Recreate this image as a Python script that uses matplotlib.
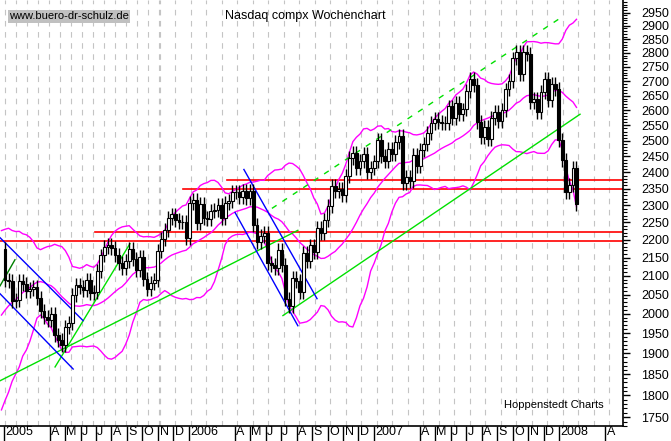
import numpy as np
import pandas as pd
import matplotlib
matplotlib.use('Agg')
import matplotlib.pyplot as plt

plt.rcParams['font.family'] = ['Liberation Sans', 'DejaVu Sans']

# weekly closes, 20 warm-up weeks of late 2004 for the bands
warmup = [1838, 1862, 1844, 1894, 1910, 1879, 1942, 1919, 1911, 1915,
          1975, 2039, 2086, 2070, 2101, 2148, 2129, 2136, 2154, 2175]
closes = [2088, 2087, 2034, 2035, 2086, 2077, 2058, 2065, 2071, 2041, 2007, 1991, 1984,
          1999, 1946, 1932, 1921, 1967, 1976, 2048, 2075, 2071, 2063, 2090, 2053, 2057,
          2112, 2156, 2179, 2185, 2177, 2157, 2136, 2120, 2141, 2175, 2145, 2116, 2152,
          2091, 2064, 2082, 2089, 2169, 2202, 2227, 2263, 2273, 2257, 2252, 2250, 2205,
          2306, 2317, 2247, 2304, 2262, 2261, 2282, 2287, 2302, 2262, 2306, 2313, 2340,
          2339, 2326, 2342, 2323, 2342, 2243, 2193, 2210, 2219, 2135, 2130, 2121, 2172,
          2130, 2037, 2020, 2094, 2085, 2057, 2163, 2141, 2184, 2165, 2235, 2218, 2258,
          2299, 2357, 2342, 2350, 2330, 2389, 2445, 2460, 2413, 2437, 2457, 2402, 2415,
          2434, 2502, 2451, 2435, 2475, 2459, 2496, 2515, 2368, 2387, 2372, 2455, 2421,
          2471, 2491, 2526, 2557, 2572, 2562, 2558, 2557, 2613, 2573, 2626, 2588, 2603,
          2666, 2707, 2687, 2562, 2511, 2544, 2505, 2576, 2596, 2566, 2602, 2671, 2701,
          2780, 2805, 2725, 2804, 2795, 2627, 2637, 2596, 2661, 2709, 2636, 2691, 2674,
          2504, 2439, 2340, 2360, 2413, 2304]
wick = 0.009

# trend lines: (week, value) endpoints
green_lines = [((-1.4, 1834), (82.5, 2227)), ((14.1, 1867), (35.2, 2189)),
               ((78.3, 1995), (162.0, 2587))]
green_dashed = ((75.2, 2291), (156.9, 2933))
dark_green = ((-1.4, 2073), (2.8, 2144))
blue_lines = [((-1.4, 2206), (22.0, 1982)), ((-1.4, 2052), (19.2, 1862)),
              ((67.3, 2409), (87.9, 2039)), ((64.8, 2279), (82.5, 1969))]
red_levels = [2378, 2348, 2223, 2196]
red_starts = [62.5, 50.1, 25.4, -2.0]

month_labels = ['2005', 'A', 'M', 'J', 'J', 'A', 'S', 'O', 'N', 'D',
                '2006', 'A', 'M', 'J', 'J', 'A', 'S', 'O', 'N', 'D',
                '2007', 'A', 'M', 'J', 'J', 'A', 'S', 'O', 'N', 'D',
                '2008', 'A']
month_dates = ['2005-01-01', '2005-04-01', '2005-05-01', '2005-06-01', '2005-07-01',
               '2005-08-01', '2005-09-01', '2005-10-01', '2005-11-01', '2005-12-01',
               '2006-01-01', '2006-04-01', '2006-05-01', '2006-06-01', '2006-07-01',
               '2006-08-01', '2006-09-01', '2006-10-01', '2006-11-01', '2006-12-01',
               '2007-01-01', '2007-04-01', '2007-05-01', '2007-06-01', '2007-07-01',
               '2007-08-01', '2007-09-01', '2007-10-01', '2007-11-01', '2007-12-01',
               '2008-01-01', '2008-04-01']

allc = np.array(warmup + closes, dtype=float)
s = pd.Series(allc)
ma = s.rolling(20).mean().values[len(warmup) - 1:]
sd = s.rolling(20).std(ddof=0).values[len(warmup) - 1:]
xb = np.arange(-1, len(closes))

c = np.array(closes, dtype=float)
o = np.concatenate([[warmup[-1]], c[:-1]])
x = np.arange(len(c))

fig = plt.figure(figsize=(6.71, 4.41), dpi=100)
ax = fig.add_axes([0, 15 / 441, 623 / 671, 426 / 441])
ax.set_yscale('log')
ax.set_xlim(-1.41, 174.1)
ax.set_ylim(1730, 2998)

for gx in list(np.arange(5, 160, 11)) + list(np.arange(160, 623, 15.5)):
    ax.axvline((gx - 5) / 3.55, color='#c4c4c4', lw=0.8, ls=(0, (5, 5)), zorder=0)

for lvl, st in zip(red_levels, red_starts):
    ax.plot([st, 175], [lvl, lvl], color='#ff0000', lw=1.2, zorder=2)

ax.plot(xb, ma, color='#ff00ff', lw=1, zorder=3)
ax.plot(xb, ma + 2 * sd, color='#ff00ff', lw=1, zorder=3)
ax.plot(xb, ma - 2 * sd, color='#ff00ff', lw=1, zorder=3)

for p0, p1 in green_lines:
    ax.plot([p0[0], p1[0]], [p0[1], p1[1]], color='#00e000', lw=1, zorder=3)
ax.plot([green_dashed[0][0], green_dashed[1][0]], [green_dashed[0][1], green_dashed[1][1]],
        color='#00e000', lw=1, ls=(0, (4, 5)), zorder=3)
ax.plot([dark_green[0][0], dark_green[1][0]], [dark_green[0][1], dark_green[1][1]],
        color='#008000', lw=1, zorder=3)
for p0, p1 in blue_lines:
    ax.plot([p0[0], p1[0]], [p0[1], p1[1]], color='#0000ff', lw=1, zorder=3)

hi = np.maximum(o, c) * (1 + wick)
lo = np.minimum(o, c) * (1 - wick)
ax.vlines(x, lo, hi, color='black', lw=1, zorder=4)
up = c >= o
ax.bar(x[up], (c - o)[up], bottom=o[up], width=0.8, facecolor='white',
       edgecolor='black', lw=0.8, zorder=5)
ax.bar(x[~up], (o - c)[~up], bottom=c[~up], width=0.8, facecolor='black',
       edgecolor='black', lw=0.8, zorder=5)

# axes styling
for sp in ['top', 'left']:
    ax.spines[sp].set_visible(False)
ax.spines['right'].set_linewidth(1.2)
ax.spines['bottom'].set_linewidth(1.2)
ax.yaxis.tick_right()
ax.yaxis.set_major_locator(matplotlib.ticker.FixedLocator(np.arange(1750, 2951, 50)))
ax.yaxis.set_minor_locator(matplotlib.ticker.FixedLocator(np.arange(1730, 2999, 10)))
ax.yaxis.set_major_formatter(matplotlib.ticker.FormatStrFormatter('%d'))
ax.yaxis.set_minor_formatter(matplotlib.ticker.NullFormatter())
ax.tick_params(axis='y', which='major', length=5, width=1, labelsize=9, pad=8)
ax.tick_params(axis='y', which='minor', length=3, width=0.8)

start = pd.Timestamp('2005-01-03')
mpos = [(pd.Timestamp(d) - start).days / 7 for d in month_dates]
ax.set_xticks(mpos)
ax.set_xticklabels([])
ax.tick_params(axis='x', length=13, width=1, direction='out')
for p, lab in zip(mpos, month_labels):
    ax.text(p + 0.4, 1730, lab, fontsize=9, ha='left', va='top',
            transform=ax.transData, clip_on=False)

ax.text(62, 2935, 'Nasdaq compx Wochenchart', fontsize=9, ha='left', va='center')
ax.text(1.2, 2935, 'www.buero-dr-schulz.de', fontsize=8, ha='left', va='center',
        bbox=dict(facecolor='#c0c0c0', edgecolor='none', pad=1))
ax.text(140.5, 1778, 'Hoppenstedt Charts', fontsize=8, ha='left', va='center')

fig.savefig('out.png', dpi=100)
